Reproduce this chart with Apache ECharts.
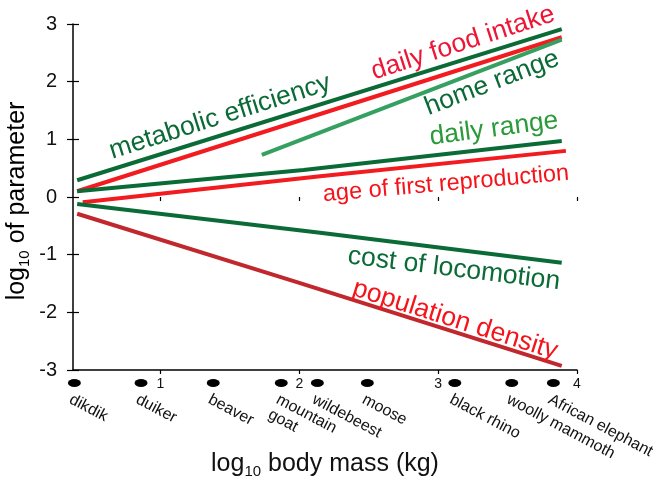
<!DOCTYPE html>
<html>
<head>
<meta charset="utf-8">
<script src="https://cdn.jsdelivr.net/npm/echarts@6/dist/echarts.min.js"></script>
<style>html,body{margin:0;padding:0;background:#fff}#c{width:669px;height:481px}</style>
</head>
<body>
<div id="c"></div>
<script>
// ---- data ----
const xTickValues = [1, 2, 3, 4];
const yTickLabels = [-3, -2, -1, 0, 1, 2, 3];
const animals = ['dikdik', 'duiker', 'beaver', 'mountain\ngoat', 'wildebeest', 'moose', 'black rhino', 'woolly mammoth', 'African elephant'];
const animalMass = [0.38, 0.86, 1.38, 1.87, 2.13, 2.49, 3.12, 3.53, 3.83];

const metabolicX = [0.40, 3.89];        const metabolicY = [0.29, 2.91];
const foodX = [0.40, 3.89];             const foodY = [0.10, 2.77];
const homeX = [1.73, 3.89];             const homeY = [0.73, 2.73];
const dailyRangeX = [0.40, 2.03, 3.89]; const dailyRangeY = [0.10, 0.47, 0.97];
const ageX = [0.44, 2.15, 3.92];        const ageY = [-0.09, 0.36, 0.80];
const costX = [0.40, 2.15, 3.89];       const costY = [-0.12, -0.62, -1.14];
const popX = [0.40, 2.00, 3.89];        const popY = [-0.29, -1.49, -2.93];

const X_MIN = 0.37, X_MAX = 4;
const DARK_GREEN = '#0b6b37', RED = '#f21b1f', BRICK = '#c0282e', MID_GREEN = '#35a060';
const FONT = '"Liberation Sans", Arial, Helvetica, sans-serif';

const zip = (xs, ys) => xs.map((x, i) => [x, ys[i]]);
function line(name, xs, ys, color) {
  return { name, type: 'line', xAxisIndex: 0, yAxisIndex: 0, data: zip(xs, ys), symbol: 'none',
    lineStyle: { color, width: 4, cap: 'butt' }, z: 3, animation: false };
}
function lab(text, x, y, deg, color, size) {
  return { type: 'text', x, y, rotation: deg * Math.PI / 180, z: 10,
    style: { text, fill: color, font: (size || 26.5) + 'px ' + FONT, align: 'center', verticalAlign: 'middle',
      textAlign: 'center', textVerticalAlign: 'middle' } };
}
const nameRich = {
  a: { fontSize: 25, lineHeight: 30, color: '#111', fontFamily: FONT },
  s: { fontSize: 15, lineHeight: 15, verticalAlign: 'bottom', color: '#111', fontFamily: FONT }
};

const chart = echarts.init(document.getElementById('c'), null, { renderer: 'canvas' });
chart.setOption({
  animation: false,
  backgroundColor: '#fff',
  grid: [
    { left: 73, right: 92, top: 24, bottom: 111, containLabel: false, outerBoundsMode: 'none' },
    { left: 73, right: 92, top: 377, height: 12, containLabel: false, outerBoundsMode: 'none' }
  ],
  xAxis: [
    { type: 'value', gridIndex: 0, min: X_MIN, max: X_MAX,
      axisLine: { show: true, onZero: false, lineStyle: { color: '#000', width: 1.5 } },
      axisTick: { show: true, length: 4, customValues: xTickValues, lineStyle: { color: '#000', width: 1.2 } },
      axisLabel: { show: true, customValues: xTickValues, margin: 7, fontSize: 14, color: '#111', fontFamily: FONT },
      splitLine: { show: false },
      name: '{a|log}{s|10}{a| body mass (kg)}', nameLocation: 'middle', nameGap: 79,
      nameTextStyle: { rich: nameRich } },
    { type: 'value', gridIndex: 0, min: X_MIN, max: X_MAX,
      axisLine: { show: false }, axisLabel: { show: false }, splitLine: { show: false },
      axisTick: { show: true, inside: true, length: 4, customValues: xTickValues, lineStyle: { color: '#000', width: 1.2 } } },
    { type: 'value', gridIndex: 1, min: X_MIN, max: X_MAX, show: false }
  ],
  yAxis: [
    { type: 'value', gridIndex: 0, min: -3, max: 3, interval: 1, position: 'left',
      axisLine: { show: true, onZero: false, lineStyle: { color: '#000', width: 1.5 } },
      axisTick: { show: true, length: 6, lineStyle: { color: '#000', width: 1.2 } },
      axisLabel: { show: true, margin: 16, fontSize: 20, color: '#111', fontFamily: FONT,
        formatter: v => String(yTickLabels[yTickLabels.indexOf(v)]) },
      splitLine: { show: false } },
    { type: 'value', gridIndex: 0, min: -3, max: 3, interval: 1, position: 'left',
      axisLine: { show: false }, axisLabel: { show: false }, splitLine: { show: false },
      axisTick: { show: true, inside: true, length: 6, lineStyle: { color: '#000', width: 1.2 } } },
    { type: 'value', gridIndex: 1, min: -1, max: 1, show: false }
  ],
  series: [
    line('metabolic efficiency', metabolicX, metabolicY, DARK_GREEN),
    line('daily food intake', foodX, foodY, RED),
    line('home range', homeX, homeY, MID_GREEN),
    line('daily range', dailyRangeX, dailyRangeY, DARK_GREEN),
    line('age of first reproduction', ageX, ageY, RED),
    line('cost of locomotion', costX, costY, DARK_GREEN),
    line('population density', popX, popY, BRICK),
    { name: 'animals', type: 'scatter', xAxisIndex: 2, yAxisIndex: 2, clip: false,
      data: animalMass.map((m, i) => ({ value: [m, 0], name: animals[i] })),
      symbol: 'circle', symbolSize: [13, 8], itemStyle: { color: '#000', opacity: 1 },
      label: { show: true, formatter: p => p.name, position: 'bottom', distance: 4, rotate: -28,
        align: 'left', verticalAlign: 'top', offset: [0, 0], fontSize: 16, lineHeight: 17,
        color: '#111', fontFamily: FONT } }
  ],
  graphic: [
    { type: 'text', x: 17, y: 201, rotation: Math.PI / 2, z: 10,
      style: { text: '{a|log}{s|10}{a| of parameter}', rich: nameRich, align: 'center', verticalAlign: 'middle',
        textAlign: 'center', textVerticalAlign: 'middle' } },
    lab('metabolic efficiency', 220, 117, 17.5, DARK_GREEN),
    lab('daily food intake', 463, 43, 18, '#ee1535'),
    lab('home range', 492, 83, 21, DARK_GREEN),
    lab('daily range', 494, 129, 7.5, '#2a9a3a'),
    lab('age of first reproduction', 446, 184, 5, '#f5141a', 23.5),
    lab('cost of locomotion', 454, 269, -7, DARK_GREEN),
    lab('population density', 455, 320, -17.5, '#f5141a')
  ]
});
</script>
</body>
</html>
